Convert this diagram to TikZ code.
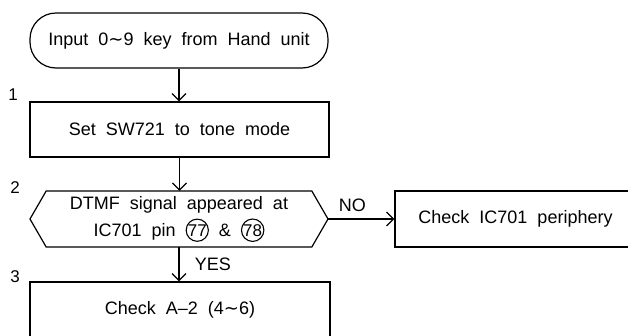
\documentclass[tikz,border=0pt]{standalone}
\usepackage{fontspec}
\setmainfont{Liberation Sans}[WordSpace=2]
\newfontfamily\symfont{DejaVu Sans}
\usetikzlibrary{arrows.meta,shapes.symbols}
\newcommand\pinno[1]{\tikz[baseline=(pn.base)]\node[draw,circle,minimum width=21pt,minimum height=21pt,inner sep=0pt,line width=1.1pt](pn){\fontsize{17}{17}\selectfont#1};}
\newcommand\tld{{\symfont ∼}}

\begin{document}
\begin{tikzpicture}[x=1pt,y=-1pt,line width=1.2pt,
    font=\fontsize{18}{27}\selectfont,
    box/.style={draw,minimum width=299pt,minimum height=55pt,inner sep=0pt},
    flow/.style={-{Straight Barb[length=7pt,width=14pt]}},
    stepno/.style={font=\fontsize{17}{17}\selectfont}]
                      \useasboundingbox (0,0) rectangle (628,335);
                      \clip (0,0) rectangle (628,335);
                      \node[box,rounded corners=26pt,minimum width=298pt](start)at(179,40.5){Input 0\tld9 key from Hand unit};
                      \node[box](set)at(179.5,129.5){Set SW721 to tone mode};
                      \node[signal,signal to=west and east,signal pointer angle=120,draw,minimum width=298pt,minimum height=56pt,inner sep=0pt,align=center](dtmf)at(179,219){DTMF signal appeared at\\IC701 pin \pinno{77} \& \pinno{78}};
                      \node[box,minimum width=241pt,minimum height=56pt](ic)at(515.5,219){Check IC701 periphery};
                      \node[box,minimum width=300pt](chk)at(180,309.5){Check A\textendash2 (4\tld6)};
                      \node[stepno](n1)at(13,95){1};
                      \node[stepno](n2)at(15,188){2};
                      \node[stepno](n3)at(15,277){3};
                      \draw[flow](start.south)--(start.south|-set.north);
                      \draw[flow](set.south)--(set.south|-dtmf.north);
                      \draw[flow](dtmf.east)--(ic.west)node[pos=0.1,anchor=south west,yshift=3pt]{NO};
                      \draw[flow](dtmf.south)--(dtmf.south|-chk.north)node[midway,right=12pt]{YES};
                  \end{tikzpicture}
\end{document}
